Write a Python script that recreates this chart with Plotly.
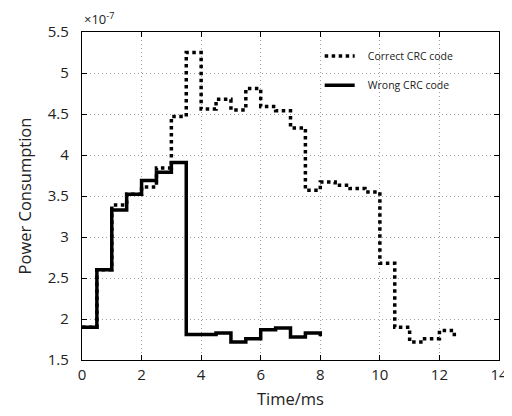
import plotly.graph_objects as go

# Time (ms) and power consumption (units of 1e-7)
t_correct = [0, 0.5, 1.0, 1.5, 2.0, 2.5, 3.0, 3.5, 4.0, 4.5, 5.0, 5.5, 6.0, 6.5,
             7.0, 7.5, 8.0, 8.5, 9.0, 9.5, 10.0, 10.5, 11.0, 11.5, 12.0, 12.5]
p_correct = [1.90, 2.60, 3.39, 3.52, 3.61, 3.84, 4.47, 5.25, 4.56, 4.68, 4.55, 4.81, 4.59, 4.54,
             4.33, 3.57, 3.67, 3.63, 3.59, 3.55, 2.68, 1.90, 1.72, 1.76, 1.86, 1.76]

t_wrong = [0, 0.5, 1.0, 1.5, 2.0, 2.5, 3.0, 3.5, 4.0, 4.5, 5.0, 5.5, 6.0, 6.5, 7.0, 7.5, 8.0]
p_wrong = [1.90, 2.60, 3.33, 3.52, 3.69, 3.79, 3.91, 1.81, 1.81, 1.83, 1.72, 1.76, 1.87, 1.89,
           1.78, 1.83, 1.79]

x_ticks = [0, 2, 4, 6, 8, 10, 12, 14]
x_ticktext = ["0", "2", "4", "6", "8", "10", "12", "14"]
y_ticks = [1.5, 2, 2.5, 3, 3.5, 4, 4.5, 5, 5.5]
y_ticktext = ["1.5", "2", "2.5", "3", "3.5", "4", "4.5", "5", "5.5"]

FONT = "Open Sans"
TXT = "#222222"
NB = "\u00a0\u00a0\u00a0"

fig = go.Figure()
fig.add_trace(go.Scatter(
    x=t_correct, y=p_correct, mode="lines", line_shape="hv",
    name=NB + "Correct CRC code", legend="legend",
    line=dict(color="black", width=3.5, dash="3.5px,3.5px"),
))
fig.add_trace(go.Scatter(
    x=t_wrong, y=p_wrong, mode="lines", line_shape="hv",
    name=NB + "Wrong CRC code", legend="legend2",
    line=dict(color="black", width=3.5),
))

axis_common = dict(
    showline=True, linecolor="black", linewidth=1.2, mirror="ticks",
    ticks="inside", ticklen=5, tickcolor="black", tickwidth=1,
    showgrid=True, gridcolor="#a0a0a0", gridwidth=1, griddash="1px,3px",
    zeroline=False, automargin=False,
    tickfont=dict(family=FONT, size=15, color=TXT),
)

fig.update_xaxes(range=[0, 14], tickvals=x_ticks, ticktext=x_ticktext, ticklabelstandoff=1,
                 title=dict(text="Time/ms", font=dict(family=FONT, size=16.5, color=TXT), standoff=10),
                 **axis_common)
fig.update_yaxes(range=[1.5, 5.5], tickvals=y_ticks, ticktext=y_ticktext, ticklabelstandoff=9,
                 title=dict(text="Power Consumption", font=dict(family=FONT, size=16.5, color=TXT), standoff=12),
                 **axis_common)

legend_common = dict(
    xanchor="left", yanchor="middle", bgcolor="rgba(255,255,255,0)",
    borderwidth=0, font=dict(family=FONT, size=10.5, color=TXT),
)
# page has an 8px body margin, so the figure is sized to fit inside the window
fig.update_layout(
    width=504, height=408,
    margin=dict(l=74, r=13, t=24, b=56),
    paper_bgcolor="white", plot_bgcolor="white",
    legend=dict(x=0.570, y=0.927, **legend_common),
    legend2=dict(x=0.570, y=0.838, **legend_common),
    showlegend=True,
    annotations=[dict(
        text="×10<sup>-7</sup>", xref="paper", yref="paper", x=0, y=1,
        xanchor="left", yanchor="middle", yshift=14, showarrow=False,
        font=dict(family=FONT, size=13, color=TXT),
    )],
)

fig.write_html("out.html")
